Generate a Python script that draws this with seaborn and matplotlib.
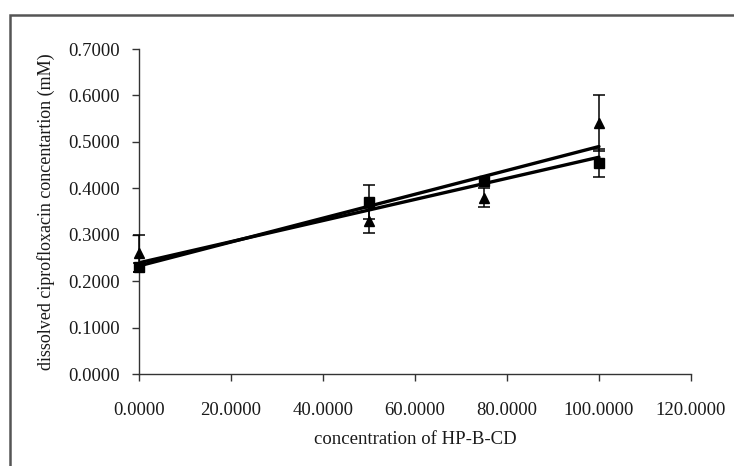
import matplotlib
matplotlib.use("Agg")
import matplotlib.pyplot as plt
from matplotlib.patches import Rectangle
from matplotlib.ticker import FormatStrFormatter
import seaborn as sns
import pandas as pd

# HP-B-CD concentration levels
hpbcd = [0.0, 50.0, 75.0, 100.0]

# dissolved ciprofloxacin (mM), two replicate series with their error bars
series_a = [0.26, 0.33, 0.38, 0.54]      # triangles
series_a_err = [0.04, 0.027, 0.02, 0.06]
series_b = [0.23, 0.37, 0.415, 0.455]    # squares
series_b_err = [0.01, 0.037, 0.008, 0.03]

x_ticks = [0, 20, 40, 60, 80, 100, 120]
y_ticks = [0.0, 0.1, 0.2, 0.3, 0.4, 0.5, 0.6, 0.7]

df_a = pd.DataFrame({"x": hpbcd, "y": series_a})
df_b = pd.DataFrame({"x": hpbcd, "y": series_b})

sns.set_theme(style="white")
plt.rcParams["font.family"] = ["Liberation Serif", "DejaVu Serif"]

fig = plt.figure(figsize=(7.34, 4.66), dpi=100)
ax = fig.add_axes([0.1894, 0.1974, 0.752, 0.6974])

# linear trend lines
for df in (df_a, df_b):
    sns.regplot(data=df, x="x", y="y", ax=ax, scatter=False, ci=None,
                truncate=True, line_kws=dict(color="black", lw=2.4))

# markers with error bars
ax.errorbar(hpbcd, series_a, yerr=series_a_err, fmt="^", color="black",
            ms=7.5, elinewidth=1.1, capsize=4, capthick=1.1, zorder=3,
            clip_on=False)
ax.errorbar(hpbcd, series_b, yerr=series_b_err, fmt="s", color="black",
            ms=6.5, elinewidth=1.1, capsize=4, capthick=1.1, zorder=3,
            clip_on=False)

ax.set_xlim(0, 120)
ax.set_ylim(0, 0.7)
ax.set_xticks(x_ticks)
ax.set_yticks(y_ticks)
ax.xaxis.set_major_formatter(FormatStrFormatter("%.4f"))
ax.yaxis.set_major_formatter(FormatStrFormatter("%.4f"))

for side in ("top", "right"):
    ax.spines[side].set_visible(False)
for side in ("left", "bottom"):
    ax.spines[side].set_color("#333333")
    ax.spines[side].set_linewidth(1.0)

ax.tick_params(axis="both", which="major", direction="out", length=5,
               width=1.0, color="#333333", labelsize=13.5, labelcolor="#1a1a1a",
               left=True, bottom=True)
ax.tick_params(axis="y", pad=9)
ax.tick_params(axis="x", pad=15)

ax.set_xlabel("concentration of HP-B-CD", fontsize=13.5, color="#1a1a1a",
              labelpad=9)
ax.set_ylabel("dissolved ciprofloxacin concentartion (mM)", fontsize=13,
              color="#1a1a1a", labelpad=9)

# outer chart border
fig.patches.append(Rectangle((10 / 734, -0.05), 1.0, 1 - 15 / 466 + 0.05,
                             transform=fig.transFigure, fill=False,
                             edgecolor="#555555", lw=1.8))

fig.savefig("out.png", dpi=100)
